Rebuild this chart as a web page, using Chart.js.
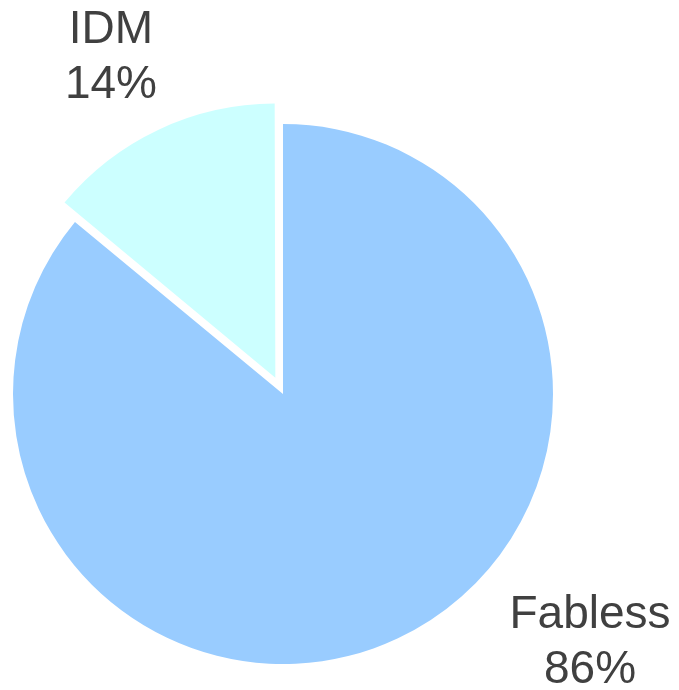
<!DOCTYPE html>
<html>
<head>
<meta charset="utf-8">
<script src="https://cdn.jsdelivr.net/npm/chart.js@4.4.1/dist/chart.umd.min.js"></script>
<style>
    html, body { margin: 0; padding: 0; background: #fff; }
    #wrap { width: 679px; height: 690px; }
</style>
</head>
<body>
<div id="wrap"><canvas id="pieChart" width="679" height="690"></canvas></div>
<script>
// Chart data
const segments = ['Fabless', 'IDM'];
const shares = [86, 14];
const sliceColors = ['#99CCFF', '#CCFFFF'];
// Chart.js moves an arc by roughly a third of "offset" for a thin slice
const explode = [0, 72];

/**
 * Category + percent labels outside the pie (pushed inside the canvas,
 * then slid sideways so they never sit on the pie)
 */
const outsideLabels = {
    id: 'outsideLabels',
    afterDatasetsDraw(chart, args, opts) {
        const ctx = chart.ctx;
        const meta = chart.getDatasetMeta(0);
        const values = chart.data.datasets[0].data;
        const total = values.reduce((a, b) => a + b, 0);
        const fs = opts.fontSize;
        const lh = fs * 1.2;
        const W = chart.width, H = chart.height;

        ctx.save();
        ctx.font = fs + 'px "Liberation Sans", Arial, sans-serif';
        ctx.fillStyle = opts.color;
        ctx.textAlign = 'center';
        ctx.textBaseline = 'alphabetic';

        meta.data.forEach((arc, i) => {
            const p = arc.getProps(['x', 'y', 'startAngle', 'endAngle', 'outerRadius'], true);
            const mid = (p.startAngle + p.endAngle) / 2;
            const dist = p.outerRadius + opts.gap;
            const lines = [chart.data.labels[i], Math.round(values[i] / total * 100) + '%'];
            const w = Math.max(...lines.map(t => ctx.measureText(t).width));

            let ax = p.x + Math.cos(mid) * dist;
            let ay = p.y + Math.sin(mid) * dist;

            // keep the block inside the canvas vertically
            const minY = opts.margin + fs * 0.72 + lh / 2;
            const maxY = H - opts.bottomMargin - lh / 2;
            ay = Math.min(Math.max(ay, minY), maxY);

            // slide outwards until the text box clears the pie
            const dir = Math.cos(mid) >= 0 ? 1 : -1;
            const clearance = () => {
                const top = ay - lh / 2 - fs * 0.72, bot = ay + lh / 2;
                const nx = Math.min(Math.max(p.x, ax - w / 2), ax + w / 2);
                const ny = Math.min(Math.max(p.y, top), bot);
                return Math.hypot(nx - p.x, ny - p.y);
            };
            let guard = 0;
            while (clearance() < p.outerRadius + opts.minClear && guard++ < 400) ax += dir;
            ax = Math.min(Math.max(ax, w / 2), W - w / 2);

            ctx.fillText(lines[0], ax, ay - lh / 2);
            ctx.fillText(lines[1], ax, ay + lh / 2);
        });
        ctx.restore();
    }
};

new Chart(document.getElementById('pieChart'), {
    type: 'pie',
    data: {
        labels: segments,
        datasets: [{
            data: shares,
            backgroundColor: sliceColors,
            borderWidth: 0,
            offset: explode
        }]
    },
    options: {
        responsive: false,
        animation: false,
        radius: 270,
        layout: { padding: { left: 0, right: 113, top: 98, bottom: 0 } },
        plugins: {
            legend: { display: false },
            tooltip: { enabled: false },
            outsideLabels: {
                fontSize: 46,
                color: '#404040',
                gap: 134,
                margin: 10,
                bottomMargin: 7,
                minClear: 32
            }
        }
    },
    plugins: [outsideLabels]
});
</script>
</body>
</html>
